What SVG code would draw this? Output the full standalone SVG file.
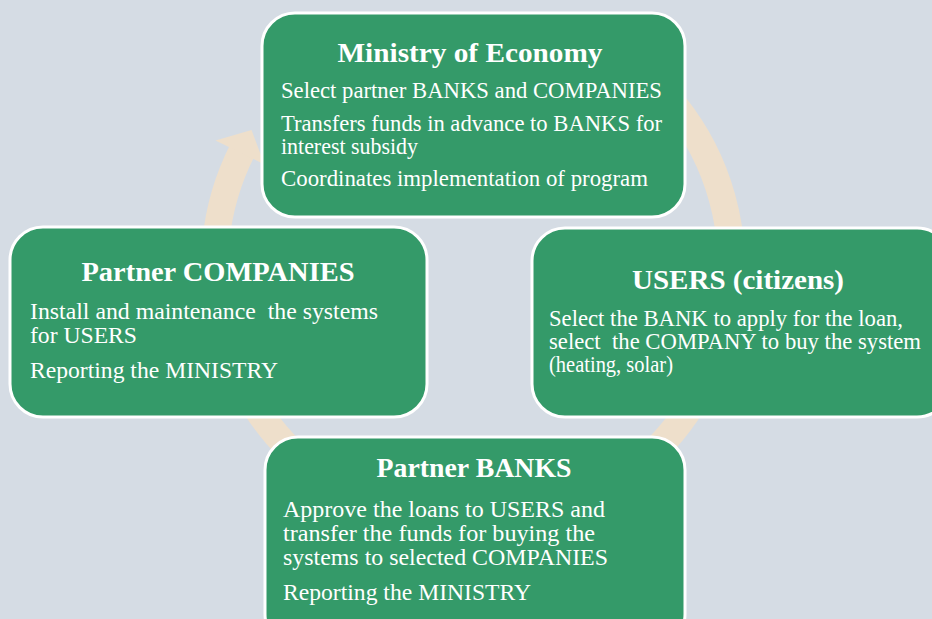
<svg xmlns="http://www.w3.org/2000/svg" width="932" height="619" viewBox="0 0 932 619">
  <style>
    .box { fill: #349A69; stroke: #FFFFFF; stroke-width: 3; }
    .title { font-family: "Liberation Serif", "Times New Roman", serif; font-weight: bold; font-size: 28px; fill: #FFFFFF; text-anchor: middle; }
    .body { font-family: "Liberation Serif", "Times New Roman", serif; font-size: 22.5px; fill: #FFFFFF; white-space: pre; }
    .ring { fill: none; stroke: #EEDFCB; stroke-width: 27; }
    .ringhead { fill: #EEDFCB; }
  </style>
  <rect x="0" y="0" width="932" height="619" fill="#D5DCE4"/>

  <!-- circular arrow running clockwise behind the boxes -->
  <g id="connectors">
    <path class="ring" d="M 602.25 43.13 A 258.5 258.5 0 1 1 242.7 149.6"/>
    <polygon class="ringhead" points="215.5,140.5 251.5,130 264.5,164.5"/>
  </g>

  <g id="ministry">
    <rect class="box" x="262" y="13" width="423" height="204" rx="33" ry="33"/>
    <text class="title" x="470" y="62" textLength="265" lengthAdjust="spacingAndGlyphs">Ministry of Economy</text>
    <text class="body" x="281" y="98" textLength="381" lengthAdjust="spacingAndGlyphs">Select partner BANKS and COMPANIES</text>
    <text class="body" x="281" y="131" textLength="381" lengthAdjust="spacingAndGlyphs">Transfers funds in advance to BANKS for</text>
    <text class="body" x="281" y="154" textLength="137" lengthAdjust="spacingAndGlyphs">interest subsidy</text>
    <text class="body" x="281" y="186" textLength="367" lengthAdjust="spacingAndGlyphs">Coordinates implementation of program</text>
  </g>

  <g id="companies">
    <rect class="box" x="10" y="227" width="417" height="190" rx="33" ry="33"/>
    <text class="title" x="218" y="281" textLength="273" lengthAdjust="spacingAndGlyphs">Partner COMPANIES</text>
    <text class="body" x="30" y="319" textLength="348" lengthAdjust="spacingAndGlyphs" xml:space="preserve">Install and maintenance  the systems</text>
    <text class="body" x="30" y="343" textLength="107" lengthAdjust="spacingAndGlyphs">for USERS</text>
    <text class="body" x="30" y="378" textLength="248" lengthAdjust="spacingAndGlyphs">Reporting the MINISTRY</text>
  </g>

  <g id="users">
    <rect class="box" x="532" y="228" width="418" height="189" rx="33" ry="33"/>
    <text class="title" x="738" y="289" textLength="212" lengthAdjust="spacingAndGlyphs">USERS (citizens)</text>
    <text class="body" x="549" y="326" textLength="354" lengthAdjust="spacingAndGlyphs">Select the BANK to apply for the loan,</text>
    <text class="body" x="549" y="349" textLength="372" lengthAdjust="spacingAndGlyphs" xml:space="preserve">select  the COMPANY to buy the system</text>
    <text class="body" x="549" y="372" textLength="124" lengthAdjust="spacingAndGlyphs">(heating, solar)</text>
  </g>

  <g id="banks">
    <rect class="box" x="265" y="437" width="420" height="210" rx="33" ry="33"/>
    <text class="title" x="474" y="477" textLength="195" lengthAdjust="spacingAndGlyphs">Partner BANKS</text>
    <text class="body" x="283" y="517" textLength="322" lengthAdjust="spacingAndGlyphs">Approve the loans to USERS and</text>
    <text class="body" x="283" y="541" textLength="312" lengthAdjust="spacingAndGlyphs">transfer the funds for buying the</text>
    <text class="body" x="283" y="565" textLength="325" lengthAdjust="spacingAndGlyphs">systems to selected COMPANIES</text>
    <text class="body" x="283" y="600" textLength="248" lengthAdjust="spacingAndGlyphs">Reporting the MINISTRY</text>
  </g>
</svg>
